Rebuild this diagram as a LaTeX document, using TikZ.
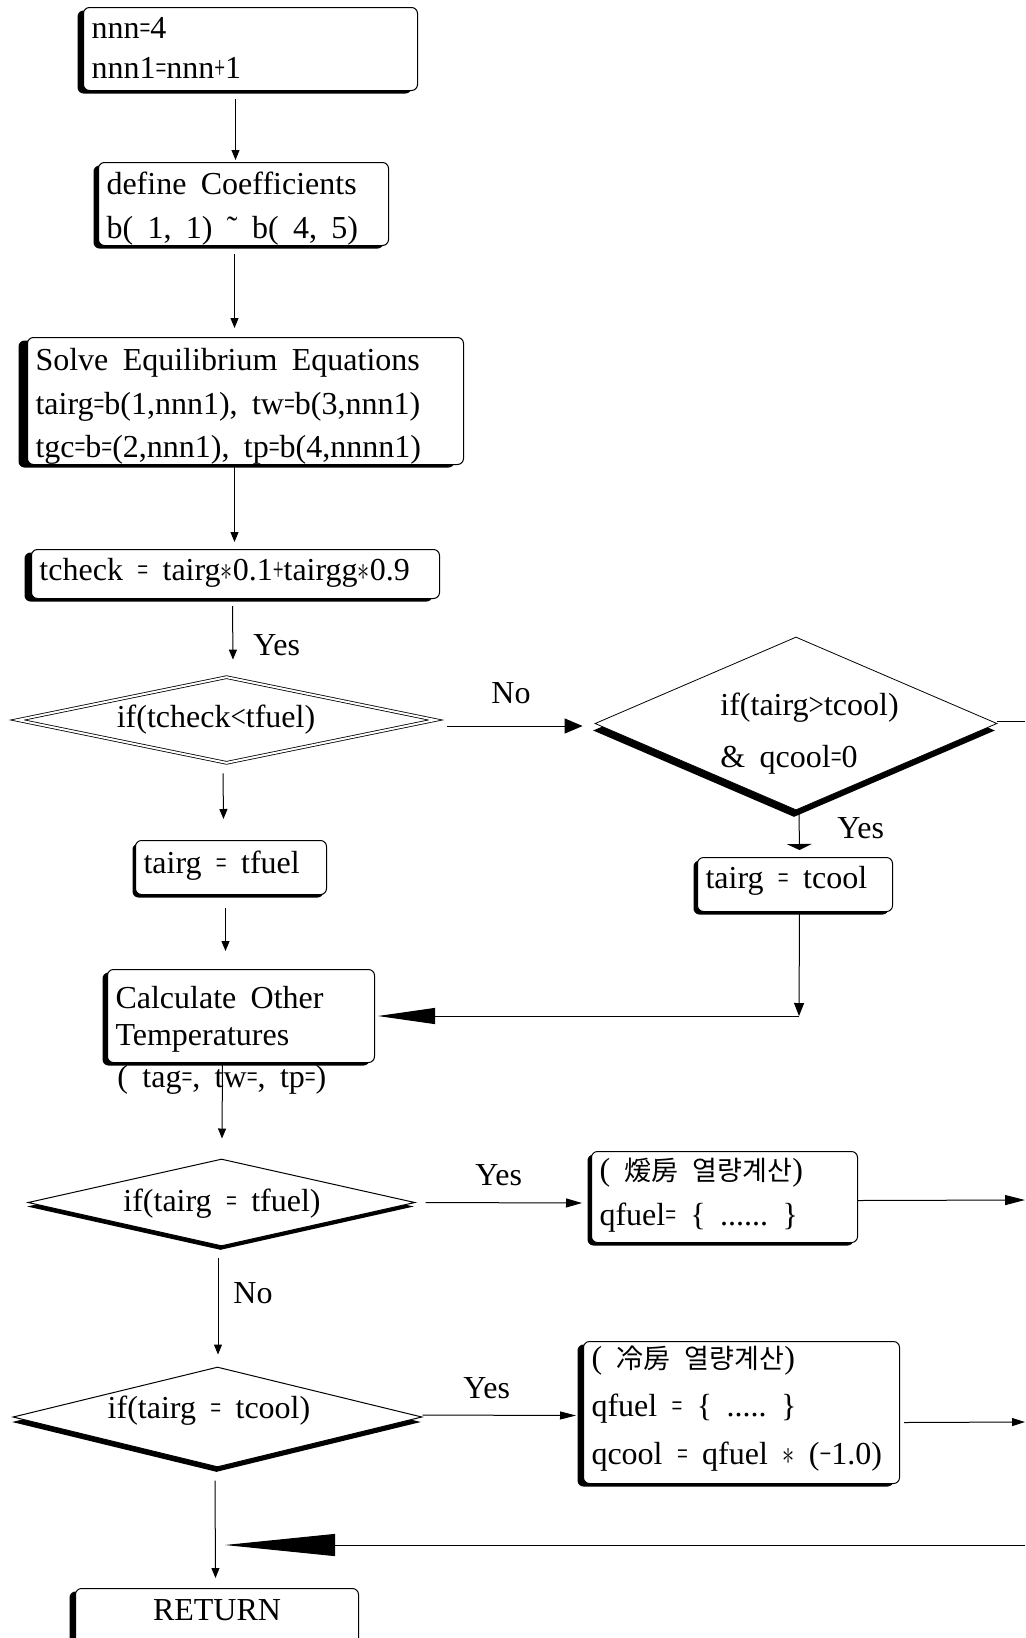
\documentclass[tikz,border=0pt]{standalone}
\usepackage{graphicx}
\usepackage{fontspec}
\setmainfont{Liberation Serif}
\newfontfamily\krfont{Noto Sans CJK KR}
\usetikzlibrary{shapes.geometric,arrows.meta,shadows,calc}

% narrow relation and operator signs
\newcommand\EQ{\scalebox{0.6}[1]{=}}
\newcommand\PL{\scalebox{0.6}[1]{+}}
\newcommand\LT{\scalebox{0.85}[1]{<}}
\newcommand\GT{\scalebox{0.85}[1]{>}}
\newcommand\AST{\scalebox{0.7}[1]{$\ast$}}
\newcommand\MINUS{\scalebox{0.65}[1]{−}}
% wide word gap
\newcommand\wsp{\hspace{0.45em}}
% Korean text, slightly smaller than the Latin text
\newcommand\kr[1]{{\krfont\fontsize{13.5}{13.5}\selectfont #1}}
% 16pt text with the given line spacing
\newcommand\setfs[1]{\fontsize{16}{#1}\selectfont}

\begin{document}
\begin{tikzpicture}[x=0.5pt,y=-0.5pt,
  every node/.style={font=\setfs{20pt}},
  box/.style={draw, line width=0.5pt, rounded corners=3pt, fill=white,
    anchor=north west, align=left, inner xsep=4pt, inner ysep=0pt},
  boxshadow/.style={drop shadow={shadow xshift=-#1, shadow yshift=-1.5pt, opacity=1, fill=black}},
  diashadow/.style 2 args={drop shadow={shadow xshift=-#1, shadow yshift=-#2, opacity=1, fill=black}},
  lines/.style={font=\setfs{#1}},
  dia/.style={diamond, draw, line width=0.5pt, fill=white, inner sep=0pt},
  lbl/.style={anchor=base west, inner sep=0pt},
  ctext/.style={anchor=base, inner sep=0pt},
  link/.style={line width=0.5pt},
  arr/.style={link, -{Triangle[length=5pt,width=4pt]}},
]
\useasboundingbox (0,0) rectangle (1025,1638);
\clip (0,0) rectangle (1025,1638);

% ---- process boxes ----
\node[box, boxshadow=3pt, lines=20pt, text width=159pt, text height=15.5pt, text depth=26pt]
  (b1) at (83,7) {\mbox{nnn\EQ4}\\\mbox{nnn1\EQ nnn\PL1}};
\node[box, boxshadow=2.5pt, lines=22pt, text width=137pt, text height=16pt, text depth=25.5pt]
  (b2) at (98,162) {\mbox{define\wsp Coefficients}\\\mbox{b(\wsp 1,\wsp 1)\wsp ˜\wsp b(\wsp 4,\wsp 5)}};
\node[box, boxshadow=4.5pt, lines=21.75pt, text width=210pt, text height=16.5pt, text depth=47pt]
  (b3) at (27,337) {\mbox{Solve\wsp Equilibrium\wsp Equations}\\\mbox{tairg\EQ b(1,nnn1),\wsp tw\EQ b(3,nnn1)}\\\mbox{tgc\EQ b\EQ(2,nnn1),\wsp tp\EQ b(4,nnnn1)}};
\node[box, boxshadow=3.5pt, text width=196pt, text height=15.5pt, text depth=9pt]
  (b4) at (31,549) {\mbox{tcheck\wsp\EQ\wsp tairg\AST0.1\PL tairgg\AST0.9}};
\node[box, boxshadow=1.5pt, text width=87.5pt, text height=16.5pt, text depth=10.5pt]
  (b5) at (135,840) {\mbox{tairg\wsp\EQ\wsp tfuel}};
\node[box, boxshadow=2pt, text width=89.5pt, text height=15.5pt, text depth=11.5pt]
  (b6) at (697,857) {\mbox{tairg\wsp\EQ\wsp tcool}};
\node[box, boxshadow=2.5pt, lines=18.5pt, text width=125.5pt, text height=19.5pt, text depth=27pt]
  (b7) at (107,969) {\mbox{Calculate\wsp Other}\\\mbox{Temperatures}};
\node[box, boxshadow=2pt, lines=22.5pt, text width=125pt, text height=14.5pt, text depth=31pt]
  (b8) at (591,1151) {\mbox{(\wsp\kr{煖房}\wsp\kr{열량계산})}\\\mbox{qfuel\EQ\wsp\{\wsp......\wsp\}}};
\node[box, boxshadow=3pt, lines=24pt, text width=150pt, text height=13.5pt, text depth=57.5pt]
  (b9) at (583,1341) {\mbox{(\wsp\kr{冷房}\wsp\kr{열량계산})}\\\mbox{qfuel\wsp\EQ\wsp\{\wsp.....\wsp\}}\\\mbox{qcool\wsp\EQ\wsp qfuel\wsp\AST\wsp(\MINUS1.0)}};
\node[box, boxshadow=3pt, align=center, text width=133.5pt, text height=16pt, text depth=35pt]
  (b10) at (75,1588) {RETURN};

% ---- decisions ----
\node[dia, double, double distance=1pt, line width=0.4pt, minimum width=209pt, minimum height=43pt]
  (d1) at (226.5,720) {};
\node[ctext] (d1t) at (216,727) {if(tcheck\LT tfuel)};
\node[dia, line width=0.4pt, diashadow={1pt}{3.5pt}, minimum width=201pt, minimum height=86.5pt]
  (d2) at (796,723.5) {};
\node[lbl, align=left, text width=140pt, lines=26pt] (d2t) at (720,715) {\mbox{if(tairg\GT tcool)}\\\mbox{\&\wsp qcool\EQ0}};
\node[dia, diashadow={0.5pt}{2pt}, minimum width=193.5pt, minimum height=43.5pt]
  (d3) at (221.5,1202.5) {};
\node[ctext] (d3t) at (222,1211) {if(tairg\wsp\EQ\wsp tfuel)};
\node[dia, diashadow={0.5pt}{2.5pt}, minimum width=204.5pt, minimum height=50pt]
  (d4) at (217.5,1417) {};
\node[ctext] (d4t) at (209,1418) {if(tairg\wsp\EQ\wsp tcool)};

% ---- labels ----
\node[lbl] (l1) at (253,655) {Yes};
\node[lbl] (l2) at (491,703) {No};
\node[lbl] (l3) at (837,838) {Yes};
\node[lbl] (l4) at (117,1087) {(\wsp tag\EQ,\wsp tw\EQ,\wsp tp\EQ)};
\node[lbl] (l5) at (475,1185) {Yes};
\node[lbl] (l6) at (233,1303) {No};
\node[lbl] (l7) at (463,1398) {Yes};

% ---- free ends ----
\coordinate (e1) at (1025,721);
\coordinate (j1) at (799,1016);
\coordinate (e2) at (1025,1200);
\coordinate (e3) at (1025,1422);
\coordinate (e4) at (1025,1545);
\coordinate (m4) at (225,1545);

% ---- connectors ----
\draw[arr] ($(b1.south)+(-15,8)$) -- ($(b2.north)+(-8,-2)$);
\draw[arr] ($(b2.south)+(-9,8)$) -- ($(b3.north)+(-11,-9)$);
\draw[arr] ($(b3.south)+(-11,0)$) -- ($(b4.north)+(-1,-7)$);
\draw[arr] ($(b4.south)+(-3,7)$) -- ($(d1.north)+(6.5,-17)$);
\draw[link,-{Triangle[length=9pt,width=7.5pt]}] ($(d1.east)+(11,6)$) -- ($(d2.west)+(-12,2.5)$);
\draw[arr] ($(d1.south)+(-3.5,10)$) -- ($(b5.north)+(-7.5,-21)$);
\draw[arr] ($(b5.south)+(-5.5,13)$) -- ($(b7.north)+(-15.5,-18)$);
\draw[link] ($(d2.east)+(0,-2.5)$) -- (e1);
\draw[link,-{Triangle[length=3pt,width=12.5pt]}] ($(d2.south)+(3,3)$) -- ($(b6.north)+(4.5,-7)$);
\draw[link,-{Triangle[length=6.5pt,width=5pt]}] ($(b6.south)+(4.5,0)$) -- (j1);
\draw[link,-{Triangle[length=28.5pt,width=8pt]}] (j1) -- ($(j1 -| b7.east)+(3,0)$);
\draw[arr] ($(b7.south)+(-18.5,0)$) -- ($(d3.north)+(0.5,-20)$);
\draw[link,-{Triangle[length=8pt,width=4.5pt]}] ($(d3.east)+(10,0)$) -- ($(b8.west)+(-9,6)$);
\draw[link,-{Triangle[length=10pt,width=5pt]}] ($(b8.east)+(0,3.5)$) -- (e2);
\draw[arr] ($(d3.south)+(-3.5,11)$) -- ($(d4.north)+(0.5,-12)$);
\draw[link,-{Triangle[length=8pt,width=4pt]}] ($(d4.east)+(0,-2)$) -- ($(b9.west)+(-7,3)$);
\draw[link,-{Triangle[length=6.5pt,width=4pt]}] ($(b9.east)+(4,10)$) -- (e3);
\draw[arr] ($(d4.south)+(-2.5,13)$) -- ($(b10.north)+(-1.5,-10)$);
\draw[link,-{Triangle[length=55pt,width=11pt]}] (e4) -- (m4);
\end{tikzpicture}
\end{document}
